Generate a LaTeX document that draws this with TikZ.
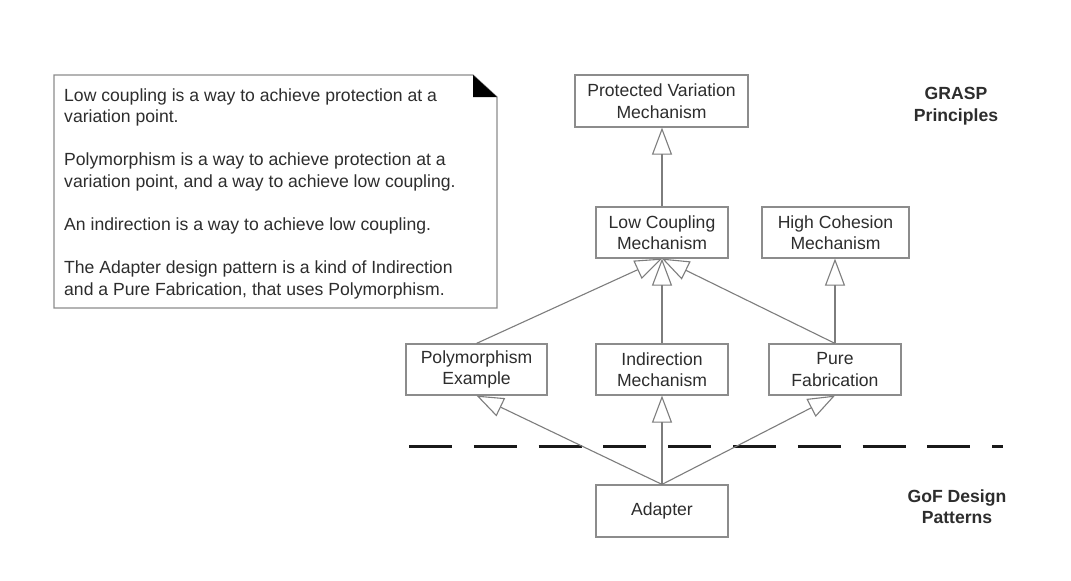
\documentclass[tikz,border=0pt]{standalone}
\usepackage{fontspec}
\setmainfont{Liberation Sans}
\usetikzlibrary{arrows.meta}
\definecolor{boxgray}{RGB}{140,140,140}
\definecolor{linegray}{RGB}{125,125,125}
\definecolor{txt}{RGB}{45,45,45}
\begin{document}
\begin{tikzpicture}[x=1pt,y=-1pt,
  every node/.style={font=\fontsize{17.6}{21.5}\selectfont, text=txt},
  box/.style={draw=boxgray, line width=1.2pt, fill=white, align=center, inner sep=0pt, minimum height=51pt},
  gen/.style={draw=linegray, line width=1.1pt, -{Triangle[open, length=27pt, width=20pt]}},
  noteline/.style={anchor=base west, inner sep=0pt},
  layer/.style={font=\fontsize{17.6}{21.5}\selectfont\bfseries, align=center, inner sep=0pt},
  divider/.style={draw={rgb,255:red,25;green,25;blue,25}, line width=3pt, dash pattern=on 43pt off 21.8pt}
]
\useasboundingbox[fill=white] (0,0) rectangle (1071,581);

% note
\draw[draw=boxgray, line width=1.2pt, fill=white] (54,75) -- (473,75) -- (497,97) -- (497,308) -- (54,308) -- cycle;
\fill[black] (473,75) -- (497,97) -- (473,97) -- cycle;
\node[noteline] (n1) at (64,101) {Low coupling is a way to achieve protection at a};
\node[noteline] (n2) at (64,122.6) {variation point.};
\node[noteline] (n3) at (64,165.8) {Polymorphism is a way to achieve protection at a};
\node[noteline] (n4) at (64,187.4) {variation point, and a way to achieve low coupling.};
\node[noteline] (n5) at (64,230.6) {An indirection is a way to achieve low coupling.};
\node[noteline] (n6) at (64,273.8) {The Adapter design pattern is a kind of Indirection};
\node[noteline] (n7) at (64,295.4) {and a Pure Fabrication, that uses Polymorphism.};

% boxes
\node[box, minimum width=173pt, minimum height=52pt] (pv) at (661.5,101) {Protected Variation\\Mechanism};
\node[box, minimum width=132pt] (lc) at (662,232.5) {Low Coupling\\Mechanism};
\node[box, minimum width=147pt] (hc) at (835.5,232.5) {High Cohesion\\Mechanism};
\node[box, minimum width=141pt] (pe) at (476.5,369.5) {Polymorphism\\Example};
\node[box, minimum width=132pt] (im) at (662,369.5) {Indirection\\Mechanism};
\node[box, minimum width=132pt] (pf) at (835,369.5) {Pure\\Fabrication};
\node[box, minimum width=132pt, minimum height=52pt] (ad) at (662,511) {Adapter};

% layer labels
\node[layer] (grasp) at (956,106) {GRASP\\Principles};
\node[layer] (gof) at (957,506.5) {GoF Design\\Patterns};

% divider
\coordinate (dl) at (409,446);
\coordinate (dr) at (1003,446);
\draw[divider] (dl) -- (dr);

% generalisations
\draw[gen] (lc.north) -- (lc.north |- pv.south);
\draw[gen] (pe.north) -- (lc.south);
\draw[gen] (im.north) -- (lc.south);
\draw[gen] (pf.north) -- (lc.south);
\draw[gen] (pf.north) -- (pf.north |- hc.south);
\draw[gen] (ad.north) -- (pe.south);
\draw[gen] (ad.north) -- (im.south);
\draw[gen] (ad.north) -- (pf.south);
\end{tikzpicture}
\end{document}
